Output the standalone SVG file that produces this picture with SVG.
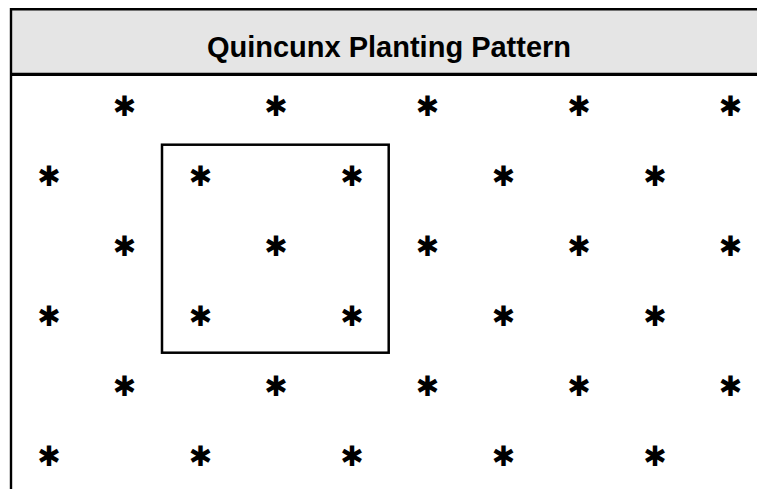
<svg xmlns="http://www.w3.org/2000/svg" width="757" height="489" viewBox="0 0 757 489">
<style>
.title{font-family:"Liberation Sans",Arial,sans-serif;font-weight:bold;font-size:29px;fill:#000}
.plant{font-family:"DejaVu Sans",sans-serif;font-size:28px;fill:#000;text-anchor:middle;dominant-baseline:central}
.frame{stroke:#000;fill:none}
</style>
<rect id="header-bg" x="10" y="9" width="747" height="65" fill="#e5e5e5"/>
<g id="frame">
<line class="frame" x1="11" y1="8" x2="11" y2="489" stroke-width="2.4"/>
<line class="frame" x1="10" y1="9.3" x2="757" y2="9.3" stroke-width="2.6"/>
<line class="frame" x1="10" y1="74.3" x2="757" y2="74.3" stroke-width="3.2"/>
</g>
<g id="title"><text class="title" x="389" y="57" text-anchor="middle">Quincunx Planting Pattern</text></g>
<g id="unit-square"><rect class="frame" x="162" y="144.7" width="226.7" height="208" stroke-width="2.5"/></g>
<g id="plants">
<text class="plant" x="124.5" y="106.5">✱</text><text class="plant" x="276" y="106.5">✱</text><text class="plant" x="427.5" y="106.5">✱</text><text class="plant" x="579" y="106.5">✱</text><text class="plant" x="730.5" y="106.5">✱</text>
<text class="plant" x="49" y="176.5">✱</text><text class="plant" x="200.5" y="176.5">✱</text><text class="plant" x="352" y="176.5">✱</text><text class="plant" x="503.5" y="176.5">✱</text><text class="plant" x="655" y="176.5">✱</text>
<text class="plant" x="124.5" y="246">✱</text><text class="plant" x="276" y="246">✱</text><text class="plant" x="427.5" y="246">✱</text><text class="plant" x="579" y="246">✱</text><text class="plant" x="730.5" y="246">✱</text>
<text class="plant" x="49" y="316">✱</text><text class="plant" x="200.5" y="316">✱</text><text class="plant" x="352" y="316">✱</text><text class="plant" x="503.5" y="316">✱</text><text class="plant" x="655" y="316">✱</text>
<text class="plant" x="124.5" y="386.5">✱</text><text class="plant" x="276" y="386.5">✱</text><text class="plant" x="427.5" y="386.5">✱</text><text class="plant" x="579" y="386.5">✱</text><text class="plant" x="730.5" y="386.5">✱</text>
<text class="plant" x="49" y="456">✱</text><text class="plant" x="200.5" y="456">✱</text><text class="plant" x="352" y="456">✱</text><text class="plant" x="503.5" y="456">✱</text><text class="plant" x="655" y="456">✱</text>
</g>
</svg>
